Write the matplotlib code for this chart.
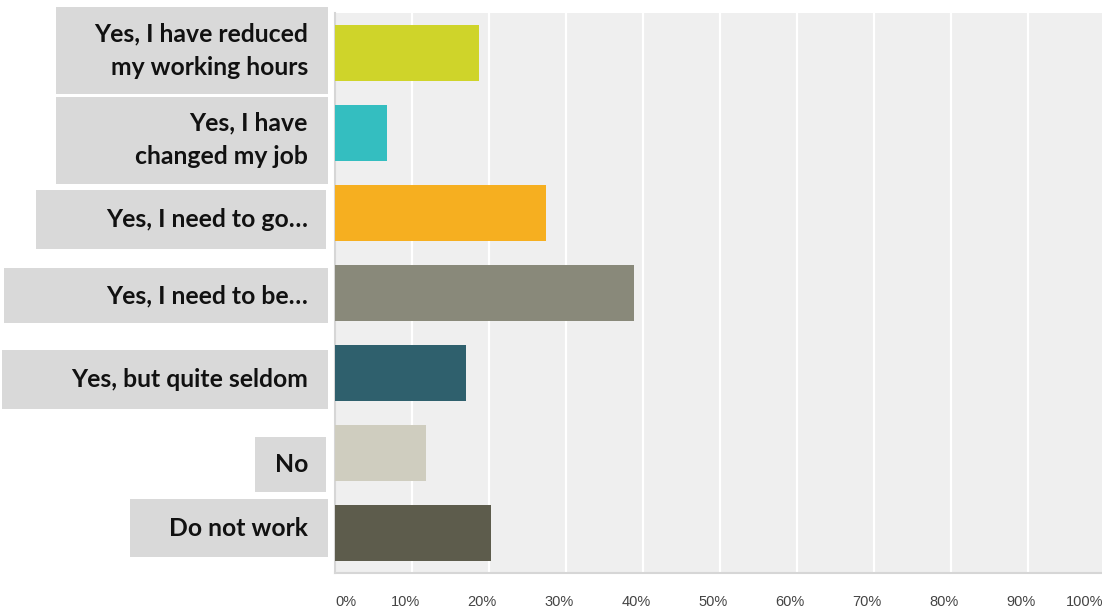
import matplotlib
matplotlib.use("Agg")
import matplotlib.pyplot as plt
import matplotlib.transforms as mtransforms
from matplotlib.patches import Rectangle

# data
categories = [
    "Yes, I have reduced\nmy working hours",
    "Yes, I have\nchanged my job",
    "Yes, I need to go\u2026",
    "Yes, I need to be\u2026",
    "Yes, but quite seldom",
    "No",
    "Do not work",
]
values = [18.7, 6.8, 27.4, 38.8, 17.0, 11.8, 20.3]
colors = ["#cfd42a", "#34bec0", "#f6af20", "#89897a", "#2f606d", "#cfcdbf", "#5d5c4c"]
ticks = [0, 10, 20, 30, 40, 50, 60, 70, 80, 90, 100]
tick_labels = ["0%", "10%", "20%", "30%", "40%", "50%", "60%", "70%", "80%", "90%", "100%"]

# label box layout (pixels): left edge, right edge, height, vertical offset from bar centre
box_left = [56, 56, 36, 4, 2, 255, 130]
box_right = [328, 328, 326, 328, 328, 326, 328]
box_h = [87, 87, 59, 55, 59, 55, 58]
box_dy = [-2.5, 7, 6.5, 2.5, 6.5, 11.5, -5]

W, H = 1102, 613
fig = plt.figure(figsize=(W / 100, H / 100), dpi=100)
ax = fig.add_axes([335 / W, (H - 573) / H, 770 / W, 560 / H])
ax.set_facecolor("#efefef")

ypos = list(range(len(categories)))
ax.barh(ypos, values, height=0.71, color=colors, zorder=3)
ax.set_xlim(0, 100)
ax.set_ylim(len(categories) - 0.5, -0.5)

for t in ticks[1:-1]:
    ax.axvline(t, color="white", lw=1.6, zorder=1)

for s in ["top", "right"]:
    ax.spines[s].set_visible(False)
for s in ["left", "bottom"]:
    ax.spines[s].set_color("#d6d6d6")
    ax.spines[s].set_linewidth(1.5)
ax.set_xticks([])
ax.set_yticks([])

# tick labels under the plot
px = 1 / 100
for t, lab in zip(ticks, tick_labels):
    if t == 0:
        ha, off = "left", 0
    elif t == 100:
        ha, off = "right", -2
    else:
        ha, off = "center", -7
    tr = ax.get_xaxis_transform() + mtransforms.ScaledTranslation(off * px, -29 * px, fig.dpi_scale_trans)
    ax.text(t, 0, lab, transform=tr, ha=ha, va="center", fontsize=10.5,
            family="Liberation Sans", color="#444444")

# category label boxes on the left
pix = 1 / 80  # data units per pixel on y
btr = mtransforms.blended_transform_factory(fig.transFigure, ax.transData)
for i, lab in enumerate(categories):
    yc = ypos[i] + box_dy[i] * pix
    fig.patches.append(Rectangle((box_left[i] / W, yc - box_h[i] * pix / 2),
                                 (box_right[i] - box_left[i]) / W, box_h[i] * pix,
                                 transform=btr, facecolor="#d9d9d9", edgecolor="none"))
    fig.text(308 / W, yc, lab, transform=btr, ha="right", va="center",
             multialignment="right", fontsize=17.8, fontweight="bold",
             family="Lato", color="#111111", linespacing=1.55)

fig.savefig("out.png", dpi=100)
